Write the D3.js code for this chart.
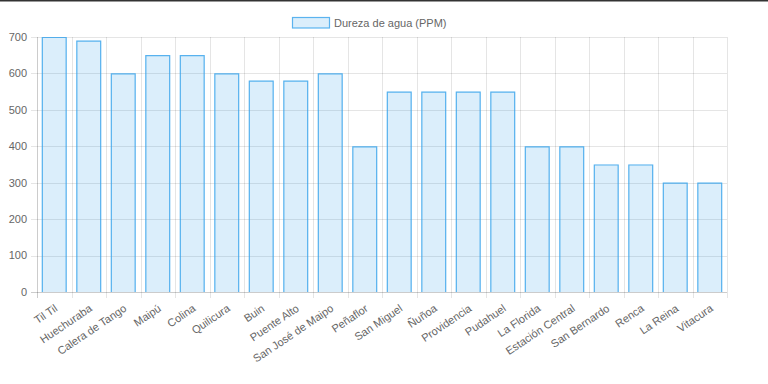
<!DOCTYPE html>
<html><head><meta charset="utf-8">
<script src="https://cdn.jsdelivr.net/npm/d3@7"></script>
<style>
html,body{margin:0;padding:0;background:#fff;}
svg{display:block;font-family:"Liberation Sans",Arial,Helvetica,sans-serif;}
</style></head>
<body>
<svg id="chart" width="768" height="384"></svg>
<script>
const categories = ["Til Til","Huechuraba","Calera de Tango","Maipú","Colina","Quilicura","Buin","Puente Alto","San José de Maipo","Peñaflor","San Miguel","Ñuñoa","Providencia","Pudahuel","La Florida","Estación Central","San Bernardo","Renca","La Reina","Vitacura"];
const values = [700,690,600,650,650,600,580,580,600,400,550,550,550,550,400,400,350,350,300,300];
const yTicks = [0,100,200,300,400,500,600,700];
const seriesName = "Dureza de agua (PPM)";

(function(){
const svg = d3.select("#chart");
const pLeft = 37, pRight = 727, pTop = 37, pBottom = 292;
const x = d3.scaleBand().domain(categories).range([pLeft, pRight]).padding(0);
const y = d3.scaleLinear().domain([0, 700]).range([pBottom, pTop]);
const fill = "rgba(54,162,235,0.18)", stroke = "rgba(54,162,235,0.8)";
const fs = 11;

// top dark strip
svg.append("rect").attr("x",0).attr("y",0).attr("width",768).attr("height",1.5).attr("fill","#333");

// horizontal grid
svg.append("g").selectAll("line").data(yTicks).join("line")
  .attr("x1", pLeft-6).attr("x2", pRight)
  .attr("y1", d=>Math.round(y(d))+0.5).attr("y2", d=>Math.round(y(d))+0.5)
  .attr("stroke", d=> d===0 ? "rgba(0,0,0,0.2)" : "rgba(0,0,0,0.1)");

// vertical grid (category boundaries)
const bounds = categories.map(c=>x(c)).concat([pRight]);
svg.append("g").selectAll("line").data(bounds).join("line")
  .attr("x1", d=>Math.round(d)+0.5).attr("x2", d=>Math.round(d)+0.5)
  .attr("y1", pTop).attr("y2", pBottom+6)
  .attr("stroke", (d,i)=> i===0 ? "rgba(0,0,0,0.2)" : "rgba(0,0,0,0.1)");

// y labels
svg.append("g").selectAll("text").data(yTicks).join("text")
  .attr("x", pLeft-10).attr("y", d=>y(d)).attr("dy","0.35em")
  .attr("text-anchor","end").attr("font-size",fs).attr("fill","#666")
  .text(d=>d);

// bars
const bw = x.bandwidth()*0.72;
const bars = svg.append("g").selectAll("g").data(categories).join("g");
bars.append("rect")
  .attr("x", (c)=>x(c)+(x.bandwidth()-bw)/2)
  .attr("y", (c,i)=>y(values[i]))
  .attr("width", bw)
  .attr("height", (c,i)=>pBottom-y(values[i]))
  .attr("fill", fill);
bars.append("path")
  .attr("d", (c,i)=>{
    const x0 = x(c)+(x.bandwidth()-bw)/2+0.5, x1 = x0+bw-1, y0 = y(values[i])+0.5;
    return `M${x0},${pBottom}V${y0}H${x1}V${pBottom}`;
  })
  .attr("fill","none").attr("stroke", stroke).attr("stroke-width",1.2);

// x labels rotated
svg.append("g").selectAll("text").data(categories).join("text")
  .attr("transform", c=>`translate(${x(c)+x.bandwidth()/2+2},${pBottom+15}) rotate(-34)`)
  .attr("text-anchor","end").attr("dy","0.35em")
  .attr("font-size",fs).attr("fill","#666")
  .text(c=>c);

// legend
const lg = svg.append("g");
lg.append("rect").attr("x",292.5).attr("y",17.5).attr("width",37).attr("height",10.5)
  .attr("fill",fill).attr("stroke",stroke).attr("stroke-width",1.2);
lg.append("text").attr("x",334).attr("y",23).attr("dy","0.35em")
  .attr("font-size",fs).attr("fill","#666").text(seriesName);
})();
</script>
</body></html>
